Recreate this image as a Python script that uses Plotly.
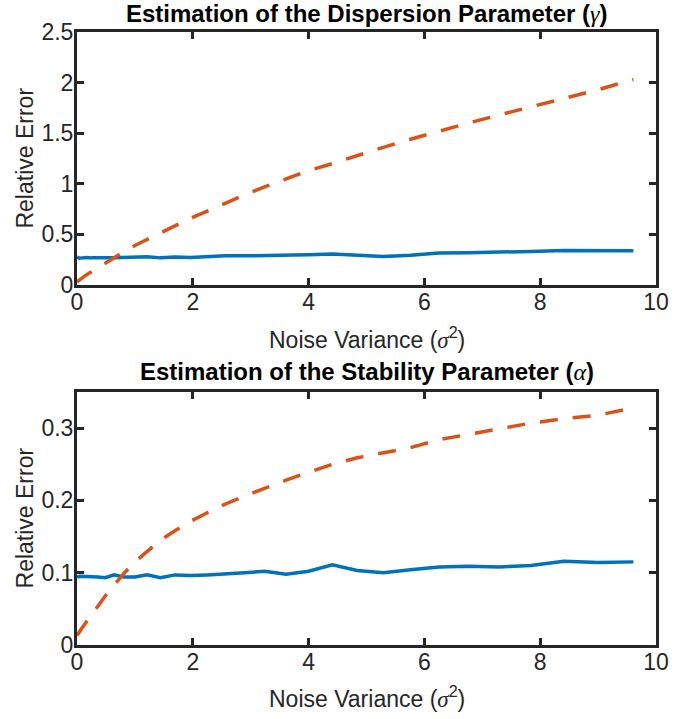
import plotly.graph_objects as go

# Noise variance values (x)
noise_var = [0, 0.01, 0.04, 0.09, 0.16, 0.25, 0.36, 0.49, 0.64, 0.81, 1.0, 1.21, 1.44, 1.69,
             1.96, 2.25, 2.56, 2.89, 3.24, 3.61, 4.0, 4.41, 4.84, 5.29, 5.76, 6.25, 6.76,
             7.29, 7.84, 8.41, 9.0, 9.61]

# Dispersion parameter (gamma) relative errors
gamma_solid = [0.275, 0.270, 0.265, 0.268, 0.272, 0.268, 0.272, 0.270, 0.270, 0.271, 0.275,
               0.279, 0.268, 0.276, 0.272, 0.282, 0.288, 0.288, 0.291, 0.287, 0.298, 0.305,
               0.295, 0.282, 0.295, 0.315, 0.318, 0.322, 0.332, 0.340, 0.340, 0.338]
gamma_dashed = [0.03, 0.035, 0.05, 0.07, 0.10, 0.13, 0.17, 0.22, 0.27, 0.33, 0.39, 0.45, 0.51,
                0.58, 0.66, 0.73, 0.81, 0.89, 0.97, 1.05, 1.13, 1.20, 1.28, 1.36, 1.44, 1.52,
                1.60, 1.68, 1.76, 1.84, 1.93, 2.03]

# Stability parameter (alpha) relative errors
alpha_solid = [0.093, 0.094, 0.095, 0.095, 0.095, 0.094, 0.094, 0.093, 0.097, 0.094, 0.094,
               0.097, 0.093, 0.097, 0.096, 0.097, 0.099, 0.100, 0.102, 0.098, 0.102, 0.111,
               0.103, 0.100, 0.104, 0.108, 0.109, 0.108, 0.110, 0.116, 0.114, 0.115]
alpha_dashed = [0.013, 0.014, 0.018, 0.024, 0.032, 0.042, 0.054, 0.068, 0.083, 0.099, 0.115,
                0.130, 0.145, 0.158, 0.171, 0.183, 0.195, 0.206, 0.217, 0.228, 0.239, 0.250,
                0.259, 0.266, 0.273, 0.284, 0.291, 0.299, 0.307, 0.313, 0.318, 0.328]

x_ticks = [0, 2, 4, 6, 8, 10]
gamma_ticks = [0, 0.5, 1, 1.5, 2, 2.5]
alpha_ticks = [0, 0.1, 0.2, 0.3]

BLUE = "#0072BD"
ORANGE = "#D95319"
AX = "#262626"
FONT = "Liberation Sans, Arial, Helvetica, sans-serif"
SERIF = "Liberation Serif, Times New Roman, serif"


def greek(ch):
    return f'<span style="font-family:{SERIF};font-weight:normal"><i>{ch}</i></span>'


fig = go.Figure()
fig.add_trace(go.Scatter(x=noise_var, y=gamma_solid, mode="lines",
                         line=dict(color=BLUE, width=3.5), xaxis="x", yaxis="y", showlegend=False))
fig.add_trace(go.Scatter(x=noise_var, y=gamma_dashed, mode="lines",
                         line=dict(color=ORANGE, width=3.5, dash="18px,15px"), xaxis="x", yaxis="y",
                         showlegend=False))
fig.add_trace(go.Scatter(x=noise_var, y=alpha_solid, mode="lines",
                         line=dict(color=BLUE, width=3.5), xaxis="x2", yaxis="y2", showlegend=False))
fig.add_trace(go.Scatter(x=noise_var, y=alpha_dashed, mode="lines",
                         line=dict(color=ORANGE, width=3.5, dash="18px,15px"), xaxis="x2", yaxis="y2",
                         showlegend=False))

axis_common = dict(showline=True, linecolor=AX, linewidth=3, mirror="ticks", ticks="inside",
                   ticklen=7, tickwidth=3, tickcolor=AX, showgrid=False, zeroline=False,
                   tickfont=dict(family=FONT, size=23, color=AX))

top_dom = [0.5873, 1.0]
bot_dom = [0.0, 0.4127]

fig.update_layout(
    width=693, height=719,
    margin=dict(l=77, r=37, t=32, b=74),
    plot_bgcolor="white", paper_bgcolor="white",
    font=dict(family=FONT, color=AX),
    xaxis=dict(domain=[0, 1], range=[0, 10], tickvals=x_ticks, anchor="y",
               ticklabelstandoff=-6, **axis_common),
    yaxis=dict(domain=top_dom, range=[0, 2.5], tickvals=gamma_ticks, anchor="x",
               ticklabelstandoff=-4, **axis_common),
    xaxis2=dict(domain=[0, 1], range=[0, 10], tickvals=x_ticks, anchor="y2",
                ticklabelstandoff=-6, **axis_common),
    yaxis2=dict(domain=bot_dom, range=[0, 0.35], tickvals=alpha_ticks, anchor="x2",
                ticklabelstandoff=-4, **axis_common),
)

ann = []
ann.append(dict(text=f"<b>Estimation of the Dispersion Parameter ({greek('γ')})</b>", x=0.5, y=1.0,
                xref="paper", yref="paper", xanchor="center", yanchor="bottom", yshift=3,
                showarrow=False, font=dict(family=FONT, size=24, color="black")))
ann.append(dict(text=f"<b>Estimation of the Stability Parameter ({greek('α')})</b>", x=0.5, y=bot_dom[1],
                xref="paper", yref="paper", xanchor="center", yanchor="bottom", yshift=5,
                showarrow=False, font=dict(family=FONT, size=24, color="black")))
for yp in [0.5008, -0.0848]:
    ann.append(dict(text=f"Noise Variance ({greek('σ')}<sup>2</sup>)", x=0.5, y=yp,
                    xref="paper", yref="paper", xanchor="center", yanchor="middle",
                    showarrow=False, font=dict(family=FONT, size=23, color=AX)))
for yp in [0.7936, 0.2064]:
    ann.append(dict(text="Relative Error", x=-0.0898, y=yp, textangle=-90,
                    xref="paper", yref="paper", xanchor="center", yanchor="middle",
                    showarrow=False, font=dict(family=FONT, size=23, color=AX)))
fig.update_layout(annotations=ann)

fig.write_html("out.html", config={"displayModeBar": False},
               post_script="document.body.style.margin='0';")
